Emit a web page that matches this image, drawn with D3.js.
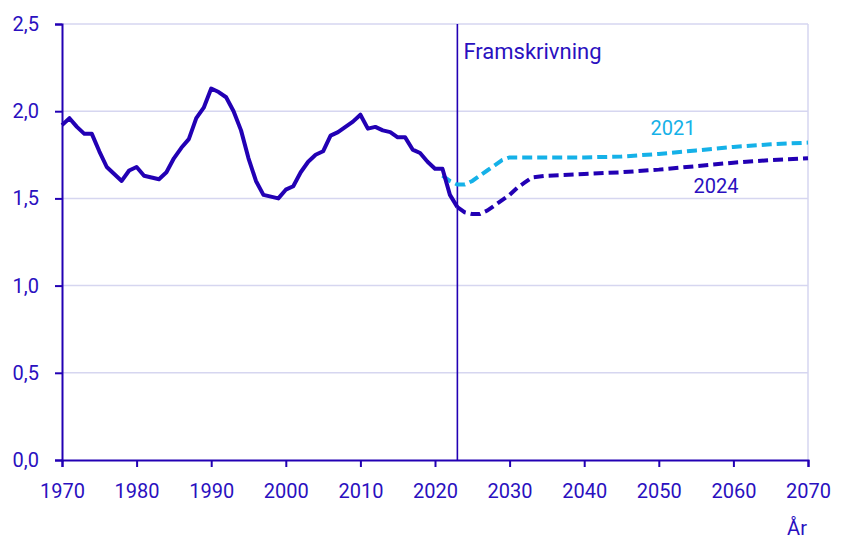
<!DOCTYPE html>
<html>
<head>
<meta charset="utf-8">
<script src="https://cdn.jsdelivr.net/npm/d3@7"></script>
<style>
  html, body { margin: 0; padding: 0; background: #fff; }
  svg { display: block; font-family: Roboto, "Noto Sans", sans-serif; }
</style>
</head>
<body>
<svg id="chart" width="843" height="540"></svg>
<script>
// Summerad fruktsamhet: utfall och framskrivningar
const histYears = [1970,1971,1972,1973,1974,1975,1976,1977,1978,1979,1980,1981,1982,1983,1984,1985,1986,1987,1988,1989,1990,1991,1992,1993,1994,1995,1996,1997,1998,1999,2000,2001,2002,2003,2004,2005,2006,2007,2008,2009,2010,2011,2012,2013,2014,2015,2016,2017,2018,2019,2020,2021,2022,2023];
const histValues = [1.92,1.96,1.91,1.87,1.87,1.77,1.68,1.64,1.60,1.66,1.68,1.63,1.62,1.61,1.65,1.73,1.79,1.84,1.96,2.02,2.13,2.11,2.08,2.00,1.89,1.73,1.60,1.52,1.51,1.50,1.55,1.57,1.65,1.71,1.75,1.77,1.86,1.88,1.91,1.94,1.98,1.90,1.91,1.89,1.88,1.85,1.85,1.78,1.76,1.71,1.67,1.67,1.52,1.45];

const proj2021Years = [2021,2022,2023,2024,2025,2026,2027,2028,2029,2030,2035,2040,2045,2050,2055,2060,2065,2070];
const proj2021Values = [1.63,1.60,1.58,1.58,1.60,1.63,1.66,1.69,1.72,1.735,1.735,1.735,1.74,1.755,1.775,1.795,1.81,1.82];

const proj2024Years = [2023,2024,2025,2026,2027,2028,2029,2030,2031,2032,2033,2035,2040,2045,2050,2055,2060,2065,2070];
const proj2024Values = [1.45,1.42,1.41,1.41,1.43,1.46,1.49,1.52,1.56,1.59,1.62,1.63,1.64,1.65,1.665,1.685,1.705,1.72,1.73];

const xTicks = [1970,1980,1990,2000,2010,2020,2030,2040,2050,2060,2070];
const yTicks = [0,0.5,1.0,1.5,2.0,2.5];
const projectionStart = 2023;

const dark = "#2200b4";
const textColor = "#2a10c0";
const light = "#15b1e8";
const grid = "#d6d6f0";
const fontSize = 20;

const svg = d3.select("#chart");
const margin = {left: 62, right: 35, top: 24, bottom: 80};
const W = 843, H = 540;

const x = d3.scaleLinear().domain([1970, 2070]).range([margin.left, W - margin.right]);
const y = d3.scaleLinear().domain([0, 2.5]).range([H - margin.bottom, margin.top]);

const fmt = v => d3.format(".1f")(v).replace(".", ",");

// horizontal gridlines
svg.append("g").selectAll("line").data(yTicks.filter(d => d > 0)).join("line")
  .attr("x1", x(1970)).attr("x2", x(2070))
  .attr("y1", d => y(d)).attr("y2", d => y(d))
  .attr("stroke", grid).attr("stroke-width", 1.5);

// right frame line
svg.append("line")
  .attr("x1", x(2070)).attr("x2", x(2070))
  .attr("y1", y(2.5)).attr("y2", y(0))
  .attr("stroke", grid).attr("stroke-width", 1.5);

// y axis
const yAxis = svg.append("g")
  .attr("transform", `translate(${x(1970)},0)`)
  .call(d3.axisLeft(y).tickValues(yTicks).tickFormat(fmt).tickSize(7).tickPadding(16));
yAxis.select(".domain").attr("stroke", dark).attr("stroke-width", 2);
yAxis.selectAll(".tick line").attr("stroke", dark).attr("stroke-width", 2);
yAxis.selectAll(".tick text").attr("fill", textColor).attr("font-size", fontSize)
  .attr("font-family", "Roboto, sans-serif");

// x axis
const xAxis = svg.append("g")
  .attr("transform", `translate(0,${y(0)})`)
  .call(d3.axisBottom(x).tickValues(xTicks).tickFormat(d3.format("d")).tickSize(7).tickPadding(17));
xAxis.select(".domain").attr("stroke", dark).attr("stroke-width", 2);
xAxis.selectAll(".tick line").attr("stroke", dark).attr("stroke-width", 2);
xAxis.selectAll(".tick text").attr("fill", textColor).attr("font-size", fontSize)
  .attr("font-family", "Roboto, sans-serif");

// projection start marker
svg.append("line")
  .attr("x1", x(projectionStart)).attr("x2", x(projectionStart))
  .attr("y1", y(2.5)).attr("y2", y(0))
  .attr("stroke", dark).attr("stroke-width", 1.6);
svg.append("text")
  .attr("x", x(projectionStart) + 6).attr("y", 59)
  .attr("fill", textColor).attr("font-size", 22)
  .text("Framskrivning");

const line = d3.line().x(d => x(d[0])).y(d => y(d[1])).curve(d3.curveLinear);

svg.append("path")
  .datum(d3.zip(proj2021Years, proj2021Values))
  .attr("d", line).attr("fill", "none")
  .attr("stroke", light).attr("stroke-width", 4)
  .attr("stroke-dasharray", "10,5");

svg.append("path")
  .datum(d3.zip(proj2024Years, proj2024Values))
  .attr("d", line).attr("fill", "none")
  .attr("stroke", dark).attr("stroke-width", 4)
  .attr("stroke-dasharray", "10,5");

svg.append("path")
  .datum(d3.zip(histYears, histValues))
  .attr("d", line).attr("fill", "none")
  .attr("stroke", dark).attr("stroke-width", 4)
  .attr("stroke-linejoin", "round");

// series labels
svg.append("text").attr("x", 673).attr("y", 135)
  .attr("text-anchor", "middle").attr("fill", light).attr("font-size", fontSize)
  .text("2021");
svg.append("text").attr("x", 716).attr("y", 193)
  .attr("text-anchor", "middle").attr("fill", textColor).attr("font-size", fontSize)
  .text("2024");

// axis title
svg.append("text").attr("x", 797).attr("y", 535)
  .attr("text-anchor", "middle").attr("fill", textColor).attr("font-size", fontSize)
  .text("År");
</script>
</body>
</html>
